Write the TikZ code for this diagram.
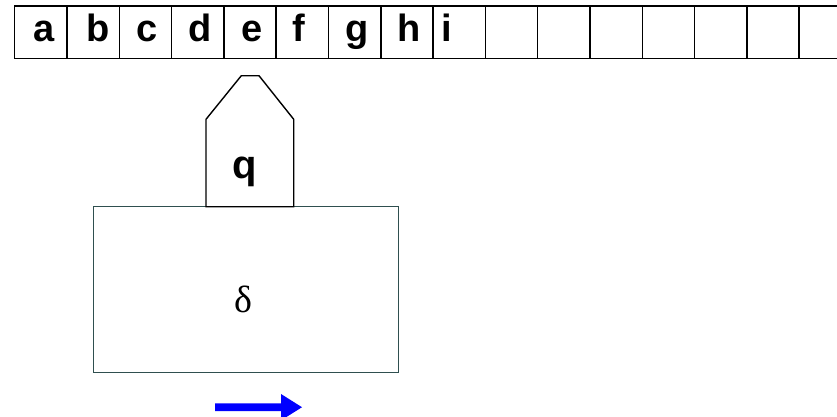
\documentclass[tikz,border=0pt]{standalone}
\usepackage{fontspec}
\setmainfont{Liberation Serif}
\setsansfont{Liberation Sans}
\definecolor{boxline}{HTML}{2F4F4F}
\definecolor{arrowblue}{HTML}{0000FF}
\tikzset{
  cell/.style={draw=black, line width=1.5pt, minimum width=52.3pt, minimum height=52.7pt, inner sep=0pt},
  tapetxt/.style={font=\sffamily\bfseries\fontsize{38}{40}\selectfont, inner sep=0pt, anchor=base},
  headshape/.style={draw=black, line width=1.4pt, fill=white},
  ctrl/.style={draw=boxline, line width=1.4pt, minimum width=305pt, minimum height=165.6pt, inner sep=0pt},
  statetxt/.style={font=\sffamily\bfseries\fontsize{40}{42}\selectfont, inner sep=0pt, anchor=base},
  deltatxt/.style={font=\rmfamily\fontsize{38}{40}\selectfont, inner sep=0pt, anchor=base},
  movearrow/.style={fill=arrowblue}
}
\begin{document}
\begin{tikzpicture}[x=1pt,y=-1pt]
\clip (0,0) rectangle (837,416);
\fill[white] (0,0) rectangle (837,416);
% tape cells
\foreach \i in {0,...,15}{
  \node[cell] (c\i) at ({14.7+52.3*\i+26.15}, 32.35) {};
}
% tape symbols
\node[tapetxt] (sa) at (44,41.7) {a};
\node[tapetxt] (sb) at (97.7,41.7) {b};
\node[tapetxt] (sc) at (147.5,41.7) {c};
\node[tapetxt] (sd) at (200,41.7) {d};
\node[tapetxt] (se) at (252,41.7) {e};
\node[tapetxt] (sf) at (299,41.7) {f};
\node[tapetxt] (sg) at (357,41.7) {g};
\node[tapetxt] (sh) at (409,41.7) {h};
\node[tapetxt] (si) at (447,41.7) {i};
% control box
\node[ctrl] (ctrl) at (245.8,289.5) {};
\node[deltatxt] (delta) at (243,312.5) {δ};
% head
\draw[headshape] (206,206.7) -- (206,119.3) -- (241.3,75.7) -- (259,75.7) -- (293.7,119.3) -- (293.7,206.7) -- cycle;
\node[statetxt] (state) at (244.7,178) {q};
% move arrow
\fill[movearrow] (215,403.3) -- (281,403.3) -- (281,394) -- (302,407.2) -- (281,420.4) -- (281,411) -- (215,411) -- cycle;
\end{tikzpicture}
\end{document}
